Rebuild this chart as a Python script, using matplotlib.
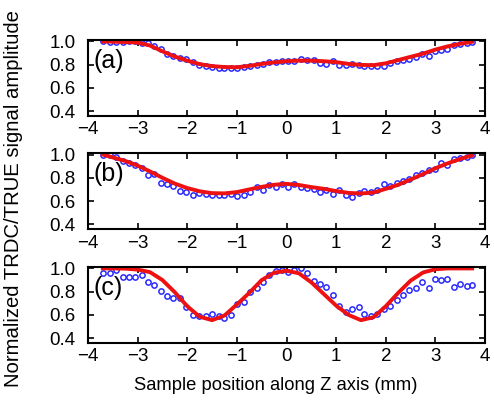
import matplotlib
matplotlib.use("Agg")
import matplotlib.pyplot as plt

plt.rcParams['font.family'] = ['Liberation Sans', 'DejaVu Sans']

# measurement positions (mm)
x_meas = [-3.69, -3.56, -3.43, -3.30, -3.17, -3.05, -2.92, -2.79, -2.66, -2.53,
          -2.40, -2.28, -2.15, -2.02, -1.89, -1.76, -1.63, -1.50, -1.37, -1.25,
          -1.12, -0.99, -0.86, -0.73, -0.60, -0.48, -0.35, -0.22, -0.09, 0.03,
          0.16, 0.29, 0.42, 0.55, 0.68, 0.80, 0.93, 1.06, 1.19, 1.32,
          1.45, 1.57, 1.70, 1.83, 1.96, 2.09, 2.22, 2.34, 2.47, 2.60,
          2.73, 2.86, 2.99, 3.11, 3.24, 3.37, 3.50, 3.63, 3.74]

meas_a = [1.0, 0.997, 0.997, 0.997, 1.0, 1.0, 0.99, 0.986, 0.962, 0.939,
          0.889, 0.874, 0.859, 0.845, 0.822, 0.80, 0.793, 0.78, 0.772, 0.772,
          0.772, 0.772, 0.778, 0.786, 0.80, 0.81, 0.822, 0.822, 0.83,
          0.83, 0.83, 0.845, 0.839, 0.839, 0.815, 0.81, 0.83, 0.80, 0.80,
          0.81, 0.80, 0.786, 0.793, 0.793, 0.793, 0.815, 0.83, 0.839, 0.85,
          0.868, 0.889, 0.874, 0.918, 0.927, 0.939, 0.968, 0.977, 0.99, 0.997]

meas_b = [1.0, 1.0, 0.98, 0.943, 0.929, 0.914, 0.886, 0.82, 0.829, 0.751,
          0.743, 0.728, 0.686, 0.677, 0.649, 0.666, 0.657, 0.651, 0.651, 0.649,
          0.657, 0.643, 0.654, 0.677, 0.723, 0.694, 0.734, 0.723, 0.743,
          0.723, 0.743, 0.72, 0.709, 0.70, 0.677, 0.694, 0.657, 0.694, 0.654,
          0.637, 0.671, 0.686, 0.677, 0.694, 0.743, 0.728, 0.757, 0.771, 0.786,
          0.82, 0.843, 0.871, 0.877, 0.923, 0.906, 0.963, 0.971, 0.98, 0.994]

meas_c = [0.957, 0.957, 0.99, 0.928, 0.928, 0.928, 0.942, 0.879, 0.859, 0.807,
          0.76, 0.743, 0.743, 0.668, 0.596, 0.59, 0.59, 0.61, 0.59, 0.576,
          0.60, 0.69, 0.71, 0.795, 0.835, 0.88, 0.94, 0.98, 0.985,
          0.971, 0.986, 1.0, 0.957, 0.893, 0.864, 0.841, 0.769, 0.674, 0.625,
          0.654, 0.668, 0.61, 0.587, 0.604, 0.654, 0.674, 0.726, 0.772, 0.812,
          0.835, 0.885, 0.83, 0.913, 0.899, 0.905, 0.841, 0.87, 0.847, 0.861]

# simulated curves
x_sim = [-3.7, -3.5, -3.25, -3.0, -2.75, -2.5, -2.25, -2.0, -1.75, -1.5,
         -1.25, -1.0, -0.75, -0.5, -0.25, 0.0, 0.25, 0.5, 0.75, 1.0,
         1.25, 1.5, 1.75, 2.0, 2.25, 2.5, 2.75, 3.0, 3.25, 3.5, 3.74]

sim_a = [1.0, 0.998, 0.995, 0.99, 0.965, 0.915, 0.87, 0.835, 0.805, 0.788,
         0.78, 0.778, 0.79, 0.807, 0.82, 0.83, 0.835, 0.835, 0.83, 0.822,
         0.807, 0.798, 0.796, 0.812, 0.84, 0.868, 0.895, 0.93, 0.958, 0.98, 0.997]

sim_b = [1.0, 0.975, 0.945, 0.905, 0.855, 0.80, 0.75, 0.712, 0.684, 0.668,
         0.666, 0.677, 0.70, 0.722, 0.74, 0.748, 0.738, 0.72, 0.705, 0.686,
         0.67, 0.665, 0.673, 0.705, 0.74, 0.785, 0.832, 0.882, 0.925, 0.962, 0.994]

sim_c = [1.0, 1.0, 0.998, 0.99, 0.968, 0.90, 0.795, 0.675, 0.585, 0.555,
         0.595, 0.69, 0.79, 0.90, 0.963, 0.98, 0.958, 0.88, 0.78, 0.68,
         0.60, 0.555, 0.58, 0.675, 0.79, 0.895, 0.965, 0.993, 1.0, 1.0, 1.0]

labels = ['(a)', '(b)', '(c)']
xticks = [-4, -3, -2, -1, 0, 1, 2, 3, 4]
yticks = [0.4, 0.6, 0.8, 1.0]
ytick_labels = ['0.4', '0.6', '0.8', '1.0']
xtick_labels = ['\u22124', '\u22123', '\u22122', '\u22121', '0', '1', '2', '3', '4']

fig = plt.figure(figsize=(4.94, 4.01), dpi=100)
bottoms = [0.711, 0.429, 0.145]
height = 0.190
for meas, sim, lab, b in zip([meas_a, meas_b, meas_c], [sim_a, sim_b, sim_c], labels, bottoms):
    ax = fig.add_axes([0.178, b, 0.804, height])
    ax.plot(x_meas, meas, linestyle='none', marker='o', markersize=3.8,
            markerfacecolor='none', markeredgecolor='#2a2aff', markeredgewidth=1.1)
    ax.plot(x_sim, sim, color='#ee1111', linewidth=2.8)
    ax.set_xlim(-4, 4)
    ax.set_ylim(0.36, 1.015)
    ax.set_xticks(xticks)
    ax.set_xticklabels(xtick_labels)
    ax.set_yticks(yticks)
    ax.set_yticklabels(ytick_labels)
    ax.tick_params(direction='in', top=True, right=True, length=4, width=1.2,
                   labelsize=13.5)
    ax.tick_params(axis='y', pad=9)
    ax.tick_params(axis='x', pad=4)
    for s in ax.spines.values():
        s.set_linewidth(1.5)
    ax.text(-3.88, 0.83, lab, fontsize=18, ha='left', va='center')

fig.text(0.559, 0.038, 'Sample position along Z axis (mm)', fontsize=13.2,
         ha='center', va='center')
fig.text(0.027, 0.505, 'Normalized TRDC/TRUE signal amplitude', fontsize=14.6,
         rotation=90, ha='center', va='center')

fig.savefig('out.png', dpi=100)
